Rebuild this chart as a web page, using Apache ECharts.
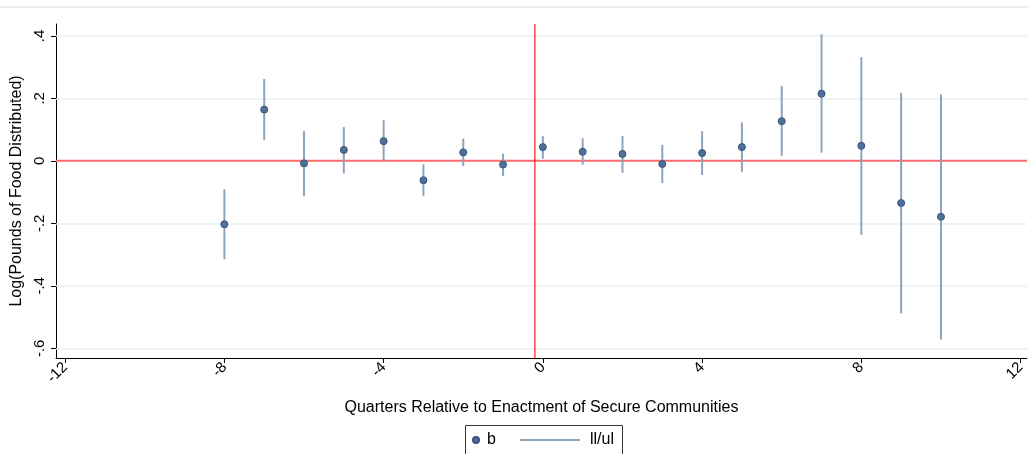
<!DOCTYPE html>
<html><head><meta charset="utf-8">
<script src="https://cdn.jsdelivr.net/npm/echarts@6/dist/echarts.min.js"></script>
<style>html,body{margin:0;padding:0;background:#fff}#c{width:1028px;height:454px}</style>
</head><body><div id="c"></div>
<script>
const quarters = [-8,-7,-6,-5,-4,-3,-2,-1,0,1,2,3,4,5,6,7,8,9,10];
const b  = [-0.203,0.164,-0.008,0.035,0.063,-0.062,0.027,-0.012,0.044,0.029,0.022,-0.010,0.025,0.044,0.127,0.215,0.048,-0.135,-0.179];
const ll = [-0.315,0.066,-0.112,-0.040,-0.001,-0.112,-0.017,-0.049,0.007,-0.012,-0.038,-0.071,-0.045,-0.035,0.016,0.026,-0.237,-0.488,-0.572];
const ul = [-0.091,0.262,0.095,0.108,0.130,-0.011,0.071,0.023,0.079,0.072,0.080,0.051,0.095,0.123,0.240,0.405,0.332,0.218,0.213];
const xTicks = [-12,-8,-4,0,4,8,12];
const yTicks = [-0.6,-0.4,-0.2,0,0.2,0.4];
const xRefLine = -0.2;
const yRefLine = 0;

const FONT = '"Liberation Sans", Arial, Helvetica, sans-serif';
const chart = echarts.init(document.getElementById('c'), null, {renderer: 'canvas'});

function fmtY(v) {
  if (Math.abs(v) < 1e-9) return '0';
  return (v < 0 ? '-' : '') + Math.abs(v).toFixed(1).replace(/^0/, '');
}

const ciData = quarters.map((q, i) => [q, ll[i], ul[i]]);
const ptData = quarters.map((q, i) => [q, b[i]]);

const option = {
  animation: false,
  backgroundColor: '#fff',
  textStyle: {fontFamily: FONT},
  grid: {left: 56, top: 24, right: 0, bottom: 96, containLabel: false},
  xAxis: {
    type: 'value', min: -12.23, max: 12.16,
    name: 'Quarters Relative to Enactment of Secure Communities',
    nameLocation: 'middle', nameGap: 42,
    nameTextStyle: {fontSize: 16, color: '#000', fontFamily: FONT},
    axisLine: {show: true, onZero: false, lineStyle: {color: '#000', width: 1}},
    axisTick: {show: true, customValues: xTicks, length: 5, lineStyle: {color: '#000'}},
    axisLabel: {customValues: xTicks, rotate: 45, margin: 7, fontSize: 15, color: '#000', fontFamily: FONT,
      formatter: v => String(v)},
    splitLine: {show: false}
  },
  yAxis: {
    type: 'value', min: -0.631, max: 0.438,
    name: 'Log(Pounds of Food Distributed)',
    nameLocation: 'middle', nameGap: 29,
    nameTextStyle: {fontSize: 16, color: '#000', fontFamily: FONT},
    axisLine: {show: true, onZero: false, lineStyle: {color: '#000', width: 1}},
    axisTick: {show: true, customValues: yTicks, length: 5, lineStyle: {color: '#000'}},
    axisLabel: {customValues: yTicks, rotate: 90, margin: 9, fontSize: 15, color: '#000', fontFamily: FONT,
      formatter: fmtY},
    splitLine: {show: false}
  },
  legend: [
    {
      data: [{name: 'b', icon: 'circle'}],
      left: 472, top: 432, padding: 0, itemWidth: 6, itemHeight: 6,
      textStyle: {fontSize: 16, color: '#000', fontFamily: FONT, padding: [0, 0, 0, 3]},
      selectedMode: false
    },
    {
      data: [{name: 'll/ul', icon: 'path://M0,0H60V2H0Z'}],
      left: 520, top: 432, padding: 0, itemWidth: 60, itemHeight: 2,
      textStyle: {fontSize: 16, color: '#000', fontFamily: FONT, padding: [0, 0, 0, 5]},
      selectedMode: false
    }
  ],
  graphic: [
    {type: 'line', shape: {x1: 0, y1: 7, x2: 1028, y2: 7}, style: {stroke: '#ececec', lineWidth: 2}, silent: true},
    {type: 'rect', shape: {x: 465.5, y: 425.5, width: 157, height: 40}, style: {fill: 'none', stroke: '#333', lineWidth: 1}, silent: true}
  ],
  series: [
    {
      name: 'grid', type: 'line', data: [], z: 1, silent: true,
      markLine: {
        z: 1, silent: true, symbol: 'none', label: {show: false},
        lineStyle: {color: '#e9efef', width: 1.5, type: 'solid'},
        data: yTicks.map(v => ({yAxis: v}))
      }
    },
    {
      name: 'refLines', type: 'custom', z: 2, silent: true,
      data: [[xRefLine, yRefLine]],
      renderItem: function (params, api) {
        const cs = params.coordSys;
        const p = api.coord([api.value(0), api.value(1)]);
        return {
          type: 'group',
          children: [
            {type: 'line', shape: {x1: cs.x, y1: p[1], x2: cs.x + cs.width, y2: p[1]},
             style: {stroke: '#ff6b6b', lineWidth: 2}},
            {type: 'line', shape: {x1: p[0], y1: cs.y, x2: p[0], y2: cs.y + cs.height},
             style: {stroke: '#ff1a1a', lineWidth: 1.2}}
          ]
        };
      }
    },
    {
      name: 'll/ul', type: 'custom', z: 3,
      itemStyle: {color: '#8fa4bc'},
      data: ciData,
      encode: {x: 0, y: [1, 2]},
      renderItem: function (params, api) {
        const x = api.value(0);
        const p1 = api.coord([x, api.value(1)]);
        const p2 = api.coord([x, api.value(2)]);
        return {
          type: 'line',
          shape: {x1: p1[0], y1: p1[1], x2: p2[0], y2: p2[1]},
          style: {stroke: '#8fa4bc', lineWidth: 2}
        };
      }
    },
    {
      name: 'b', type: 'scatter', z: 4,
      symbol: 'circle', symbolSize: 7,
      itemStyle: {color: '#50709a', borderColor: '#36557c', borderWidth: 1, opacity: 1},
      data: ptData
    }
  ]
};
chart.setOption(option);
</script>
</body></html>
